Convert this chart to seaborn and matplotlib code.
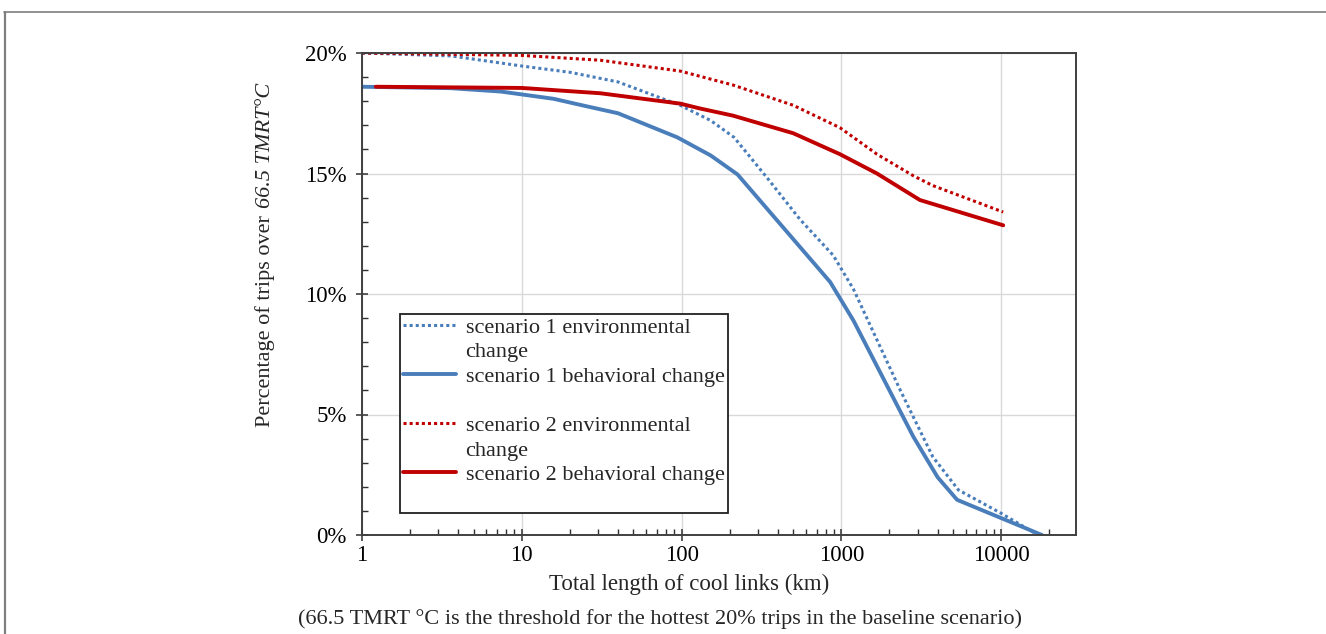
import numpy as np
import pandas as pd
import matplotlib
matplotlib.use("Agg")
import matplotlib.pyplot as plt
import seaborn as sns
from matplotlib.lines import Line2D
from matplotlib.ticker import LogLocator, MultipleLocator, FuncFormatter, NullFormatter, FixedLocator

# ---------------- data ----------------
s1_env_x = [1, 3.6, 10, 20, 40, 98, 152, 213, 345, 550, 890, 1190, 2340, 3730, 5400, 10000, 17000]
s1_env_y = [20.0, 19.88, 19.46, 19.2, 18.8, 17.83, 17.2, 16.5, 14.8, 13.1, 11.6, 10.2, 6.0, 3.25, 1.87, 0.9, 0.0]

s1_beh_x = [1, 3.6, 7.4, 15.8, 25, 40, 94, 152, 224, 850, 1190, 2820, 4000, 5300, 18000]
s1_beh_y = [18.6, 18.54, 18.4, 18.1, 17.8, 17.5, 16.5, 15.75, 14.96, 10.5, 8.9, 4.08, 2.4, 1.46, 0.0]

s2_env_x = [1, 10, 31, 98, 210, 500, 980, 1670, 2830, 3730, 10300]
s2_env_y = [20.0, 19.9, 19.7, 19.25, 18.67, 17.83, 16.9, 15.8, 14.9, 14.5, 13.4]

s2_beh_x = [1.22, 10, 31, 98, 130, 210, 500, 980, 1670, 3100, 10300]
s2_beh_y = [18.6, 18.55, 18.33, 17.9, 17.7, 17.4, 16.67, 15.8, 15.0, 13.9, 12.85]

labels = ["scenario 1 environmental", "scenario 1 behavioral change",
          "scenario 2 environmental", "scenario 2 behavioral change"]
wrap_word = "change"

y_ticks = [0, 5, 10, 15, 20]
x_ticks = [1, 10, 100, 1000, 10000]

xlabel = "Total length of cool links (km)"
ylabel_a = "Percentage of trips over"
ylabel_b = "66.5 TMRT\u00b0C"
caption = "(66.5 TMRT \u00b0C is the threshold for the hottest 20% trips in the baseline scenario)"

BLUE = "#4A7EBB"
RED = "#C00000"

# ---------------- style ----------------
sns.set_theme(style="white")
plt.rcParams["font.family"] = ["Liberation Serif", "DejaVu Serif"]
FS = 16.5
LFS = 16

fig = plt.figure(figsize=(13.26, 6.34), dpi=100)
W, H = 1326, 634
ax = fig.add_axes([362 / W, 1 - 535 / H, (1076 - 362) / W, (535 - 53) / H])

dot = (0, (1, 1))
sns.lineplot(x=s1_env_x, y=s1_env_y, ax=ax, color=BLUE, lw=2.2, linestyle=dot, sort=False, legend=False)
sns.lineplot(x=s1_beh_x, y=s1_beh_y, ax=ax, color=BLUE, lw=2.8, sort=False, legend=False)
sns.lineplot(x=s2_env_x, y=s2_env_y, ax=ax, color=RED, lw=2.2, linestyle=dot, sort=False, legend=False)
sns.lineplot(x=s2_beh_x, y=s2_beh_y, ax=ax, color=RED, lw=2.8, sort=False, legend=False)

ax.set_xscale("log")
ax.set_xlim(1, 29400)
ax.set_ylim(0, 20)

ax.xaxis.set_major_locator(FixedLocator(x_ticks))
ax.xaxis.set_major_formatter(FuncFormatter(lambda v, p: f"{v:g}"))
ax.xaxis.set_minor_locator(LogLocator(base=10, subs=np.arange(2, 10), numticks=20))
ax.xaxis.set_minor_formatter(NullFormatter())
ax.yaxis.set_major_locator(FixedLocator(y_ticks))
ax.yaxis.set_major_formatter(FuncFormatter(lambda v, p: f"{v:g}%"))
ax.yaxis.set_minor_locator(MultipleLocator(1))

ax.grid(True, which="major", color="#D9D9D9", lw=1.0)
ax.set_axisbelow(True)
for s in ax.spines.values():
    s.set_color("#404040")
    s.set_linewidth(1.4)

ax.tick_params(which="major", direction="inout", length=8, width=1.1, color="#303030",
               labelsize=FS, labelcolor="black", bottom=True, left=True)
ax.tick_params(axis="y", which="major", pad=7)
ax.tick_params(axis="x", which="major", pad=3)
ax.tick_params(which="minor", direction="in", length=4, width=1.0, color="#303030",
               bottom=True, left=True)

ax.set_xlabel("")
ax.set_ylabel("")

# axis titles
fig.text(689 / W, 1 - 584 / H, xlabel, ha="center", va="center", fontsize=FS)
fig.text(660 / W, 1 - 619 / H, caption, ha="center", va="center", fontsize=16)
fig.text(265 / W, 1 - 427 / H, ylabel_a, rotation=90, ha="center", va="bottom", fontsize=16)
fig.text(266 / W, 1 - 83 / H, ylabel_b, rotation=90, ha="center", va="top", fontsize=16,
         style="italic")

# legend
h_env1 = Line2D([], [], color=BLUE, lw=2.2, linestyle=dot)
h_beh1 = Line2D([], [], color=BLUE, lw=2.8)
h_env2 = Line2D([], [], color=RED, lw=2.2, linestyle=dot)
h_beh2 = Line2D([], [], color=RED, lw=2.8)
blank = Line2D([], [], color="none")
handles = [h_env1, blank, h_beh1, blank, h_env2, blank, h_beh2, blank]
leg_labels = [labels[0], wrap_word, labels[1], " ", labels[2], wrap_word, labels[3], " "]
leg = ax.legend(handles, leg_labels, loc="lower left",
                bbox_to_anchor=((400 - 362) / 714, (535 - 513) / 482),
                borderaxespad=0, fontsize=LFS, frameon=True, fancybox=False, shadow=False,
                framealpha=1, edgecolor="#202020", handlelength=2.35, handletextpad=0.45,
                labelspacing=0.18, borderpad=0.15)
leg.get_frame().set_linewidth(1.3)

# outer border (partially visible frame)
fig.add_artist(Line2D([4 / W, 1.0], [1 - 12 / H, 1 - 12 / H], color="#7F7F7F", lw=1.2,
                      transform=fig.transFigure))
fig.add_artist(Line2D([4.5 / W, 4.5 / W], [0, 1 - 12 / H], color="#7F7F7F", lw=1.6,
                      transform=fig.transFigure))

fig.savefig("out.png", dpi=100)
